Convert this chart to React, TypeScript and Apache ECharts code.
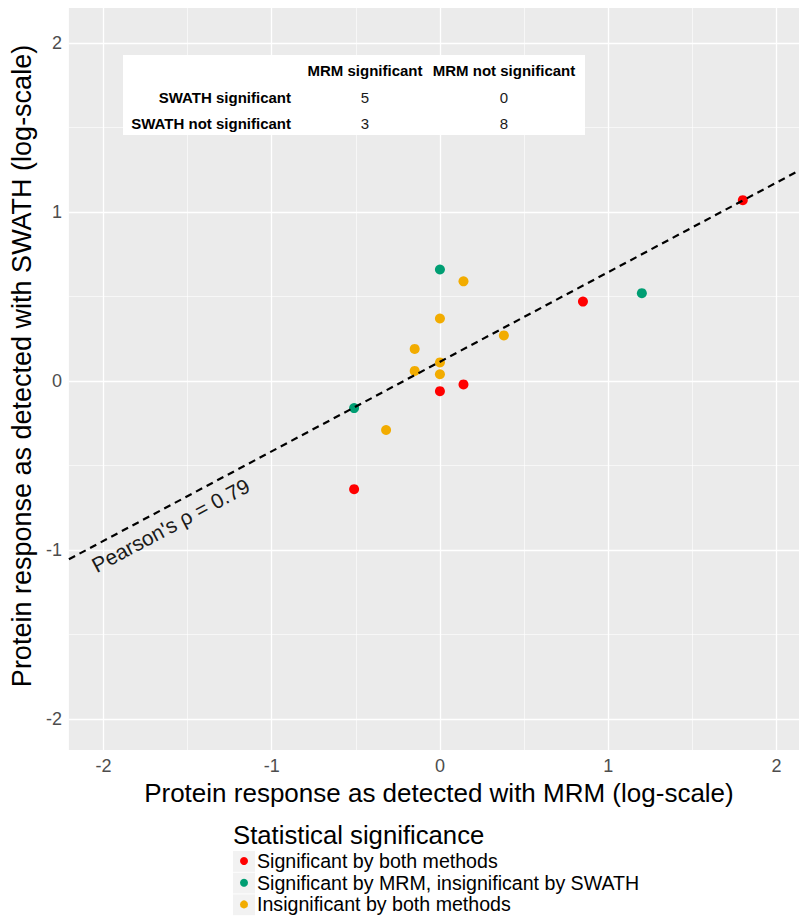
import React, { useEffect, useRef } from "react";
import * as echarts from "echarts";

// ---- data ----
const bothSignificant: number[][] = [
  [1.8, 1.07],
  [0.85, 0.47],
  [0.14, -0.02],
  [0, -0.06],
  [-0.51, -0.64],
];
const mrmOnlySignificant: number[][] = [
  [0, 0.66],
  [1.2, 0.52],
  [-0.51, -0.16],
];
const bothInsignificant: number[][] = [
  [0.14, 0.59],
  [0, 0.37],
  [0.38, 0.27],
  [-0.15, 0.19],
  [0, 0.11],
  [-0.15, 0.06],
  [0, 0.04],
  [-0.32, -0.29],
];
const seriesNames = [
  "Significant by both methods",
  "Significant by MRM, insignificant by SWATH",
  "Insignificant by both methods",
];
const fitIntercept = 0.114;
const fitSlope = 0.53;
const pearsonLabel = "Pearson's \u03C1 = 0.79";

const majorBreaks = [-2, -1, 0, 1, 2];
const minorBreaks = [-1.5, -0.5, 0.5, 1.5];

const tableColHeaders = ["MRM significant", "MRM not significant"];
const tableRowHeaders = ["SWATH significant", "SWATH not significant"];
const tableCounts = [
  [5, 0],
  [3, 8],
];

const X_MIN = -2.205;
const X_MAX = 2.134;
const Y_MIN = -2.183;
const Y_MAX = 2.207;

const FONT = "'Liberation Sans', Arial, sans-serif";
const COLORS = ["#FF0000", "#009E73", "#F2AC00"];

export default function App() {
  const ref = useRef<HTMLDivElement>(null);
  useEffect(() => {
    if (!ref.current) return;
    const chart = echarts.init(ref.current, null, { renderer: "svg" });

    const fitY = (x: number) => fitIntercept + fitSlope * x;
    const gridMarks: any[] = [];
    majorBreaks.forEach((v) => {
      gridMarks.push({ xAxis: v, lineStyle: { color: "#FFFFFF", width: 1.3, type: "solid" } });
      gridMarks.push({ yAxis: v, lineStyle: { color: "#FFFFFF", width: 1.3, type: "solid" } });
    });
    minorBreaks.forEach((v) => {
      gridMarks.push({ xAxis: v, lineStyle: { color: "#FFFFFF", width: 0.6, type: "solid" } });
      gridMarks.push({ yAxis: v, lineStyle: { color: "#FFFFFF", width: 0.6, type: "solid" } });
    });

    // table
    const colCenters = [365, 504];
    const rowYs = [97, 123];
    const tableEls: any[] = [
      {
        type: "rect",
        id: "tblBg",
        z: 20,
        shape: { x: 123, y: 55, width: 462, height: 80 },
        style: { fill: "#FFFFFF" },
      },
    ];
    tableColHeaders.forEach((t, i) => {
      tableEls.push({
        type: "text",
        id: "tblH" + i,
        z: 21,
        x: colCenters[i],
        y: 70,
        style: { text: t, font: `bold 15px ${FONT}`, fill: "#000", align: "center", verticalAlign: "middle" },
      });
    });
    tableRowHeaders.forEach((t, r) => {
      tableEls.push({
        type: "text",
        id: "tblR" + r,
        z: 21,
        x: 291,
        y: rowYs[r],
        style: { text: t, font: `bold 15px ${FONT}`, fill: "#000", align: "right", verticalAlign: "middle" },
      });
      tableCounts[r].forEach((c, i) => {
        tableEls.push({
          type: "text",
          id: "tblC" + r + "_" + i,
          z: 21,
          x: colCenters[i],
          y: rowYs[r],
          style: { text: String(c), font: `15px ${FONT}`, fill: "#1a1a1a", align: "center", verticalAlign: "middle" },
        });
      });
    });

    const keyRects: any[] = seriesNames.map((_, i) => ({
      type: "rect",
      id: "key" + i,
      z: 1,
      shape: { x: 233, y: 851 + i * 21.7, width: 22, height: 20.8 },
      style: { fill: "#F2F2F2" },
    }));

    const option: any = {
      animation: false,
      backgroundColor: "#FFFFFF",
      textStyle: { fontFamily: FONT },
      grid: {
        left: 67,
        top: 8,
        right: 0,
        bottom: 167,
        show: true,
        backgroundColor: "#EBEBEB",
        borderWidth: 0,
      },
      xAxis: {
        type: "value",
        min: X_MIN,
        max: X_MAX,
        axisLine: { show: false },
        splitLine: { show: false },
        axisTick: { show: true, customValues: majorBreaks, length: 5, lineStyle: { color: "#333333" } },
        axisLabel: { customValues: majorBreaks, color: "#4D4D4D", fontSize: 18, margin: 7, formatter: (v: number) => String(v) },
        name: "Protein response as detected with MRM (log-scale)",
        nameLocation: "middle",
        nameGap: 30,
        nameTextStyle: { fontSize: 26, color: "#000000", fontFamily: FONT, padding: [0, 0, 0, 10] },
      },
      yAxis: {
        type: "value",
        min: Y_MIN,
        max: Y_MAX,
        axisLine: { show: false },
        splitLine: { show: false },
        axisTick: { show: true, customValues: majorBreaks, length: 5, lineStyle: { color: "#333333" } },
        axisLabel: { customValues: majorBreaks, color: "#4D4D4D", fontSize: 18, margin: 7, formatter: (v: number) => String(v) },
        name: "Protein response as detected with SWATH (log-scale)",
        nameLocation: "middle",
        nameGap: 27,
        nameTextStyle: { fontSize: 27, color: "#000000", fontFamily: FONT, padding: [0, 0, 0, 26] },
      },
      legend: {
        orient: "vertical",
        left: 240,
        top: 851,
        height: 70,
        padding: 0,
        icon: "circle",
        itemWidth: 8,
        itemHeight: 8,
        itemGap: 1.7,
        selectedMode: false,
        data: seriesNames,
        textStyle: { fontSize: 19.6, color: "#000000", lineHeight: 20, padding: [0, 0, 0, 4], fontFamily: FONT },
      },
      series: [
        {
          type: "line",
          name: "grid",
          data: [],
          silent: true,
          markLine: {
            silent: true,
            z: 1,
            symbol: ["none", "none"],
            label: { show: false },
            data: gridMarks,
            animation: false,
          },
        },
        {
          type: "scatter",
          name: seriesNames[0],
          data: bothSignificant,
          symbolSize: 10,
          z: 3,
          itemStyle: { color: COLORS[0], opacity: 1 },
        },
        {
          type: "scatter",
          name: seriesNames[1],
          data: mrmOnlySignificant,
          symbolSize: 10,
          z: 3,
          itemStyle: { color: COLORS[1], opacity: 1 },
        },
        {
          type: "scatter",
          name: seriesNames[2],
          data: bothInsignificant,
          symbolSize: 10,
          z: 3,
          itemStyle: { color: COLORS[2], opacity: 1 },
        },
        {
          type: "line",
          name: "fit",
          data: [
            [X_MIN, fitY(X_MIN)],
            [X_MAX, fitY(X_MAX)],
          ],
          showSymbol: false,
          symbol: "none",
          silent: true,
          z: 4,
          lineStyle: { color: "#000000", width: 2.2, type: [7, 5] },
        },
      ],
      graphic: [
        {
          type: "text",
          id: "legendTitle",
          left: 233,
          top: 822,
          z: 5,
          style: { text: "Statistical significance", font: `25.7px ${FONT}`, fill: "#000000" },
        },
        ...keyRects,
        ...tableEls,
      ],
    };
    chart.setOption(option);

    // Pearson annotation placed along the fitted line
    const ax = -1.6;
    const p0 = chart.convertToPixel({ gridIndex: 0 }, [ax, fitY(ax) - 0.12]) as number[];
    const pa = chart.convertToPixel({ gridIndex: 0 }, [X_MIN, fitY(X_MIN)]) as number[];
    const pb = chart.convertToPixel({ gridIndex: 0 }, [X_MAX, fitY(X_MAX)]) as number[];
    const angle = Math.atan2(pa[1] - pb[1], pb[0] - pa[0]);
    chart.setOption({
      graphic: [
        {
          type: "text",
          id: "pearson",
          x: p0[0],
          y: p0[1],
          rotation: angle,
          z: 6,
          style: {
            text: pearsonLabel,
            font: `21px ${FONT}`,
            fill: "#1a1a1a",
            align: "center",
            verticalAlign: "middle",
          },
        },
      ],
    });

    return () => chart.dispose();
  }, []);
  return (
    <div
      ref={ref}
      style={{ position: "fixed", left: 0, top: 0, width: 799, height: 917 }}
    />
  );
}
